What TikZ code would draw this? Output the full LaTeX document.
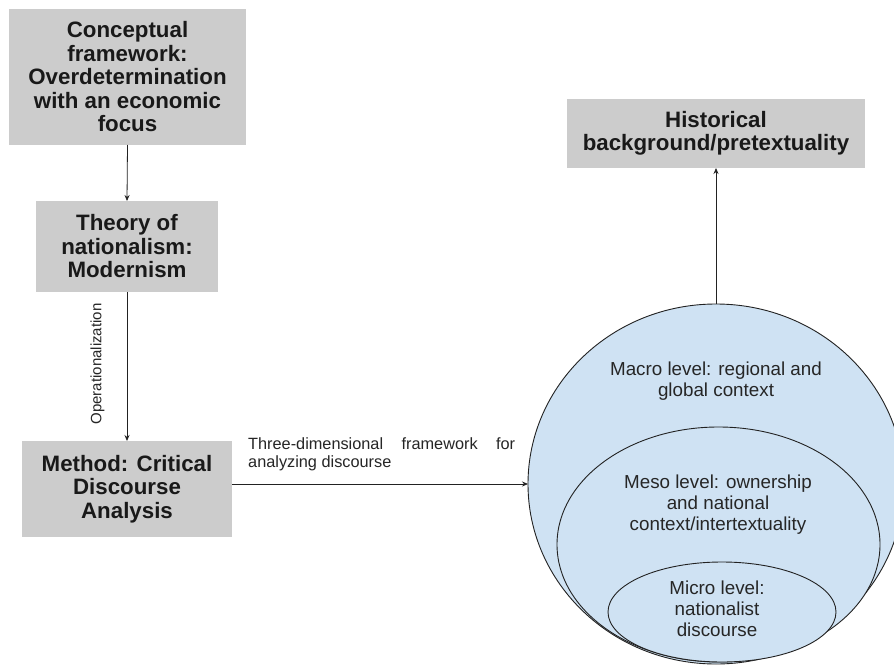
\documentclass[tikz,border=0pt]{standalone}
\usepackage{fontspec}
\setmainfont{Liberation Sans}
\usetikzlibrary{arrows.meta,shapes.geometric}
\definecolor{boxgray}{HTML}{CCCCCC}
\definecolor{lightblue}{HTML}{CFE2F3}
\definecolor{linec}{HTML}{222222}
\begin{document}
\begin{tikzpicture}[x=1pt,y=-1pt,
  graybox/.style={fill=boxgray, draw=none, inner sep=0pt, outer sep=0pt, align=center, text=black!90,
    font=\fontsize{22.3}{23.5}\selectfont\bfseries},
  lvl/.style={ellipse, fill=lightblue, draw=linec, line width=0.9pt, inner sep=0pt, outer sep=0pt},
  lvltext/.style={align=center, inner sep=0pt, text=black!85, font=\fontsize{18.8}{21}\selectfont},
  arr/.style={draw=linec, line width=0.8pt, -{Stealth[length=6pt,width=5pt]}},
  lbl/.style={inner sep=0pt, text=black!85}]
\useasboundingbox (0,0) rectangle (894,666);
\clip (0,0) rectangle (894,666);
\fill[white] (0,0) rectangle (894,666);

% left column boxes
\node[graybox, minimum width=237pt, minimum height=136pt] (concept) at (127.5,77)
  {Conceptual\\framework:\\Overdetermination\\with an economic\\focus};
\node[graybox, minimum width=182pt, minimum height=91pt] (theory) at (127,246.5)
  {Theory of\\nationalism:\\Modernism};
\node[graybox, minimum width=210pt, minimum height=96pt] (method) at (127,489)
  {Method: Critical\\Discourse\\Analysis};

% historical box
\node[graybox, minimum width=298pt, minimum height=69pt] (hist) at (716,133.5)
  {Historical\\background/pretextuality};

% nested levels
\node[lvl, minimum width=376pt, minimum height=360pt] (outer) at (716,484) {};
\node[lvl, minimum width=323pt, minimum height=235pt] (meso) at (718.5,544.5) {};
\node[lvl, minimum width=228pt, minimum height=100pt] (micro) at (722,612) {};

\node[lvltext] (macrotxt) at (716,381) {Macro level: regional and\\global context};
\node[lvltext] (mesotxt) at (718,505) {Meso level: ownership\\and national\\context/intertextuality};
\node[lvltext] (microtxt) at (717,609) {Micro level:\\nationalist\\discourse};

% connectors
\draw[arr] (concept.south) -- (theory.north);
\draw[arr] (theory.south) -- (method.north);
\draw[arr] (method.east |- outer.west) -- (outer.west);
\draw[arr] (outer.north) -- (hist.south);

% labels
\node[lbl, rotate=90, font=\fontsize{15}{17}\selectfont] (oplabel) at (97.5,364) {Operationalization};
\node[lbl, anchor=north west, align=left,
  font=\fontsize{16.3}{18.5}\selectfont] (dimlabel) at (248,437)
  {\makebox[267pt][s]{Three-dimensional framework for}\\analyzing discourse};
\end{tikzpicture}
\end{document}
